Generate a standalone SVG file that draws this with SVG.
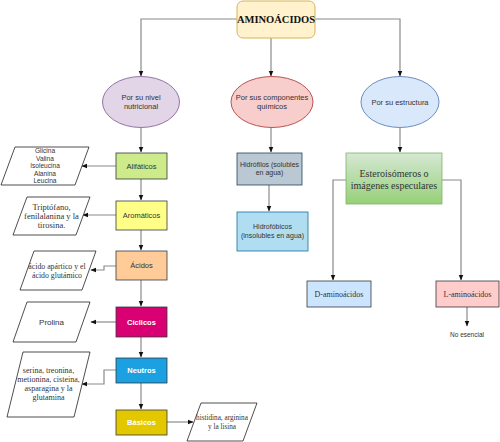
<svg xmlns="http://www.w3.org/2000/svg" width="500" height="442" viewBox="0 0 500 442">
<defs>
<style>
.c{fill:none;stroke:#8a8a8a;stroke-width:1.2}
.s{font-family:"Liberation Sans",Arial,sans-serif;font-size:7.5px;fill:#333;text-anchor:middle}
.sw{font-family:"Liberation Sans",Arial,sans-serif;font-size:7.5px;fill:#fff;font-weight:bold;text-anchor:middle}
.r{font-family:"Liberation Serif","Times New Roman",serif;font-size:7.5px;fill:#333;text-anchor:middle}
.p{fill:#fff;stroke:#222;stroke-width:0.8}
.b{stroke:#36393d;stroke-width:0.8}
</style>
<marker id="a" viewBox="0 0 10 10" refX="9" refY="5" markerWidth="6" markerHeight="6" orient="auto" markerUnits="userSpaceOnUse"><path d="M0,1 L10,5 L0,9 Z" fill="#111"/></marker>
<linearGradient id="g" x1="0" y1="0" x2="0" y2="1"><stop offset="0" stop-color="#d5e8d4"/><stop offset="1" stop-color="#97d077"/></linearGradient>
</defs>
<g id="connectors">
<path class="c" d="M237,19 H141 V76" marker-end="url(#a)"/>
<path class="c" d="M271,38 V76" marker-end="url(#a)"/>
<path class="c" d="M315,19 H400 V76" marker-end="url(#a)"/>
<path class="c" d="M141,128 V152" marker-end="url(#a)"/>
<path class="c" d="M141,179 V200" marker-end="url(#a)"/>
<path class="c" d="M141,230 V250" marker-end="url(#a)"/>
<path class="c" d="M141,280 V306" marker-end="url(#a)"/>
<path class="c" d="M141,337 V357" marker-end="url(#a)"/>
<path class="c" d="M141,383 V409" marker-end="url(#a)"/>
<path class="c" d="M116,166 H82" marker-end="url(#a)"/>
<path class="c" d="M116,215 H83" marker-end="url(#a)"/>
<path class="c" d="M116,266 H104 V270 H91" marker-end="url(#a)"/>
<path class="c" d="M116,322 H91" marker-end="url(#a)"/>
<path class="c" d="M116,370 H104 V384 H82" marker-end="url(#a)"/>
<path class="c" d="M167,422 H193" marker-end="url(#a)"/>
<path class="c" d="M271,128 V152" marker-end="url(#a)"/>
<path class="c" d="M269,185 V211" marker-end="url(#a)"/>
<path class="c" d="M400,128 V152" marker-end="url(#a)"/>
<path class="c" d="M346,180 H333 V280" marker-end="url(#a)"/>
<path class="c" d="M442,180 H461 V280" marker-end="url(#a)"/>
<path class="c" d="M467,307 V326" marker-end="url(#a)"/>
</g>
<g id="title">
<rect x="237" y="1" width="78" height="37" rx="6" fill="#fff2cc" stroke="#d6b656"/>
<text x="276" y="23" font-family="Liberation Serif,serif" font-size="10.5" font-weight="bold" fill="#111" text-anchor="middle">AMINOÁCIDOS</text>
</g>
<g id="nivel">
<ellipse cx="141" cy="102" rx="38.5" ry="25.5" fill="#e1d5e7" stroke="#9673a6"/>
<text class="s" x="141" y="100">Por su nivel</text>
<text class="s" x="141" y="109">nutricional</text>
</g>
<g id="componentes">
<ellipse cx="272" cy="102" rx="41" ry="25.5" fill="#f8cecc" stroke="#b85450"/>
<text class="s" x="272" y="100">Por sus componentes</text>
<text class="s" x="272" y="109">químicos</text>
</g>
<g id="estructura">
<ellipse cx="400" cy="102" rx="39" ry="25.5" fill="#dae8fc" stroke="#6c8ebf"/>
<text class="s" x="400" y="105">Por su estructura</text>
</g>
<g id="alifaticos">
<rect class="b" x="116" y="153" width="51" height="26" fill="#cdeb8b"/>
<text class="s" x="141.5" y="169">Alifáticos</text>
</g>
<g id="alifaticos-list">
<polygon class="p" points="15,147 89,147 75,185 1,185"/>
<text class="s" style="font-size:6.6px" x="45" y="153">Glicina</text>
<text class="s" style="font-size:6.6px" x="45" y="160.5">Valina</text>
<text class="s" style="font-size:6.6px" x="45" y="168">Isoleucina</text>
<text class="s" style="font-size:6.6px" x="45" y="175.5">Alanina</text>
<text class="s" style="font-size:6.6px" x="45" y="183">Leucina</text>
</g>
<g id="aromaticos">
<rect class="b" x="116" y="201" width="51" height="29" fill="#ffff88"/>
<text class="s" x="141.5" y="218">Aromáticos</text>
</g>
<g id="aromaticos-list">
<polygon class="p" points="27,197 90,197 76,235 13,235"/>
<text class="r" style="font-size:8.5px" x="51.5" y="210">Triptófano,</text>
<text class="r" style="font-size:8.5px" x="51.5" y="219">fenilalanina y la</text>
<text class="r" style="font-size:8.5px" x="51.5" y="228">tirosina.</text>
</g>
<g id="acidos">
<rect class="b" x="116" y="251" width="51" height="29" fill="#ffcc99"/>
<text class="s" x="141.5" y="268">Ácidos</text>
</g>
<g id="acidos-list">
<polygon class="p" points="34,251 96,251 82,290 20,290"/>
<text class="r" style="font-size:7.8px" x="57" y="269">ácido apártico y el</text>
<text class="r" style="font-size:7.8px" x="57" y="278">ácido glutámico</text>
</g>
<g id="ciclicos">
<rect class="b" x="116" y="307" width="51" height="30" fill="#d80073"/>
<text class="sw" x="141.5" y="325">Cíclicos</text>
</g>
<g id="prolina">
<polygon class="p" points="27,302 90,302 76,342 13,342"/>
<text class="s" style="font-size:8px" x="51.5" y="325">Prolina</text>
</g>
<g id="neutros">
<rect class="b" x="116" y="358" width="51" height="25" fill="#1ba1e2"/>
<text class="sw" x="141.5" y="373">Neutros</text>
</g>
<g id="neutros-list">
<polygon class="p" points="23,352 90,352 74,417 7,417"/>
<text class="r" style="font-size:8px" x="48.5" y="373">serina, treonina,</text>
<text class="r" style="font-size:8px" x="48.5" y="382">metionina, cisteina,</text>
<text class="r" style="font-size:8px" x="48.5" y="391">asparagina y la</text>
<text class="r" style="font-size:8px" x="48.5" y="400">glutamina</text>
</g>
<g id="basicos">
<rect class="b" x="116" y="410" width="51" height="25" fill="#e3c800"/>
<text class="sw" x="141.5" y="425">Básicos</text>
</g>
<g id="basicos-list">
<polygon class="p" points="201,403 257,403 243,441 187,441"/>
<text class="r" style="font-size:7.2px" x="222" y="420">histidina, arginina</text>
<text class="r" style="font-size:7.2px" x="222" y="429">y la lisina</text>
</g>
<g id="hidrofilos">
<rect x="237" y="153" width="65" height="32" fill="#bac8d3" stroke="#23445d" stroke-width="0.8"/>
<text class="s" style="font-size:7px" x="269.5" y="167">Hidrófilos (solubles</text>
<text class="s" style="font-size:7px" x="269.5" y="175">en agua)</text>
</g>
<g id="hidrofobicos">
<rect x="237" y="212" width="71" height="39" fill="#b1ddf0" stroke="#10739e" stroke-width="0.8"/>
<text class="s" style="font-size:7px" x="272.5" y="229">Hidrofóbicos</text>
<text class="s" style="font-size:7px" x="272.5" y="238">(insolubles en agua)</text>
</g>
<g id="esteroisomeros">
<rect x="346" y="153" width="96" height="51" fill="url(#g)" stroke="#82b366" stroke-width="0.8"/>
<text class="r" style="font-size:10px" x="394" y="177">Esteroisómeros o</text>
<text class="r" style="font-size:10px" x="394" y="189">imágenes especulares</text>
</g>
<g id="d-amino">
<rect class="b" x="307" y="281" width="64" height="26" fill="#cce5ff"/>
<text class="r" style="font-size:8px" x="339" y="297">D-aminoácidos</text>
</g>
<g id="l-amino">
<rect class="b" x="436" y="281" width="63" height="26" fill="#ffcccc"/>
<text class="r" style="font-size:8px" x="467.5" y="297">L-aminoácidos</text>
</g>
<g id="no-esencial">
<text class="s" style="font-size:6.5px" x="467" y="337">No esencial</text>
</g>
</svg>
